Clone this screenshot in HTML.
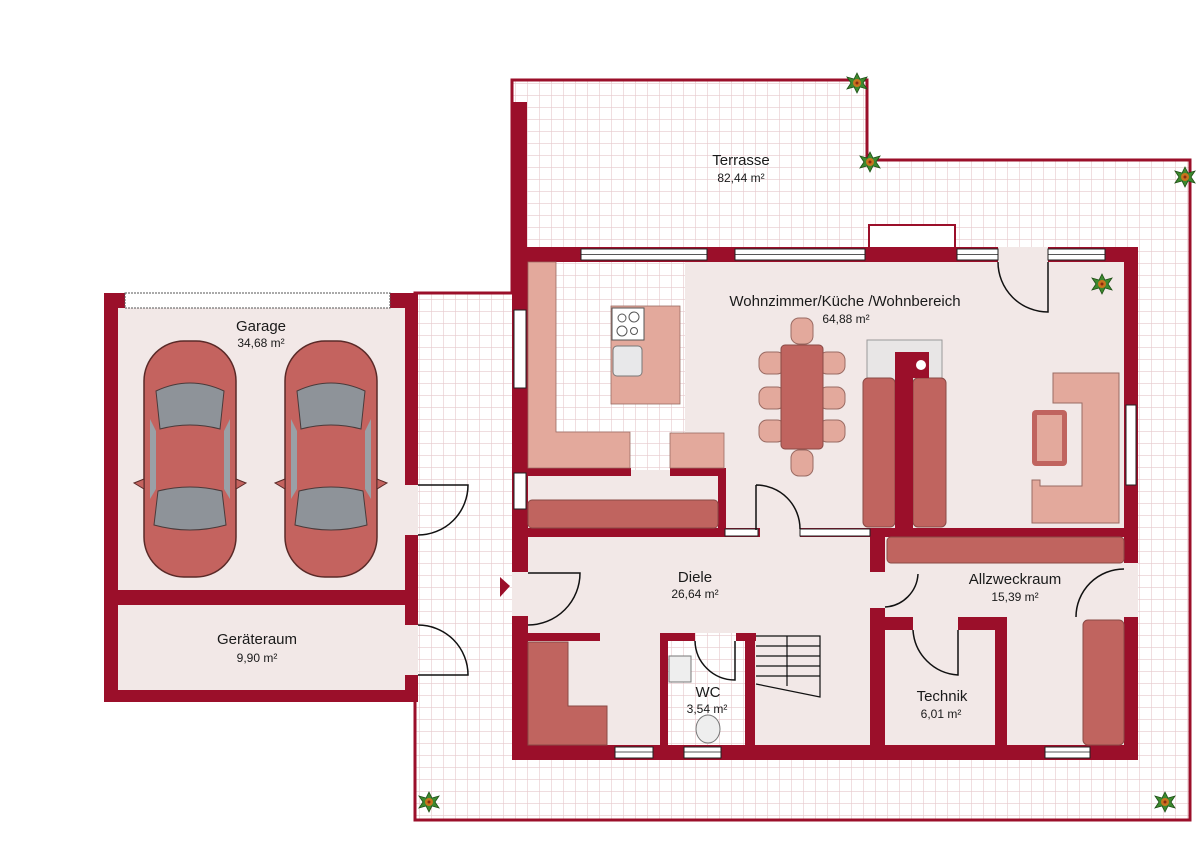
<!DOCTYPE html>
<html><head><meta charset="utf-8"><style>
html,body{margin:0;padding:0;background:#fff;width:1200px;height:848px;overflow:hidden}
svg{display:block}
text{font-family:"Liberation Sans",sans-serif;fill:#1a1a1a;text-anchor:middle}
</style></head><body>
<svg width="1200" height="848" viewBox="0 0 1200 848" xmlns="http://www.w3.org/2000/svg">
<defs>
<pattern id="g" width="12" height="12" patternUnits="userSpaceOnUse">
<rect width="12" height="12" fill="#fff"/>
<path d="M12 0V12M0 12H12" stroke="#e6c9cc" stroke-width="1.2" fill="none"/>
</pattern>
<g id="plant"><polygon points="0,-10 3,-4 10,-6 6,0 10,6 3,4 0,10 -3,4 -10,6 -6,0 -10,-6 -3,-4" fill="#3d8a2e" stroke="#1f4f17" stroke-width="0.8"/><circle r="4" fill="#c8741e"/><circle r="1.5" fill="#8b2a10"/></g>
<g id="car">
<rect x="-46" y="-118" width="92" height="236" rx="40" fill="#c4635f" stroke="#5a2a28" stroke-width="1.5"/>
<path d="M-34,-68 Q0,-84 34,-68 L30,-30 Q0,-38 -30,-30Z" fill="#8e9399" stroke="#4a3a3a"/>
<path d="M-32,32 Q0,24 32,32 L36,66 Q0,76 -36,66Z" fill="#8e9399" stroke="#4a3a3a"/>
<path d="M-40,-40 L-34,-28 L-34,30 L-40,40Z" fill="#9aa0a6"/>
<path d="M40,-40 L34,-28 L34,30 L40,40Z" fill="#9aa0a6"/>
<path d="M-46,20 L-56,24 L-46,30Z M46,20 L56,24 L46,30Z" fill="#c4635f" stroke="#5a2a28"/>
</g>
</defs>

<!-- terrace -->
<path d="M512,80 H867 V160 H1190 V820 H415 V293 H512 Z" fill="url(#g)" stroke="#9b0f2a" stroke-width="3"/>
<rect x="512" y="102" width="15" height="150" fill="#9b0f2a"/>

<!-- house interior fill -->
<rect x="512" y="248" width="626" height="512" fill="#f2e8e7"/>
<rect x="528" y="262" width="157" height="208" fill="url(#g)"/>
<rect x="660" y="633" width="85" height="112" fill="url(#g)"/>

<!-- garage -->
<rect x="104" y="293" width="314" height="409" fill="#9b0f2a"/>
<rect x="118" y="308" width="287" height="282" fill="#f2e8e7"/>
<rect x="118" y="605" width="287" height="85" fill="#f2e8e7"/>
<rect x="125" y="293" width="265" height="15" fill="#fff" stroke="#555" stroke-dasharray="2,1" stroke-width="1"/>
<rect x="405" y="485" width="13" height="50" fill="#f2e8e7"/>
<rect x="405" y="625" width="13" height="50" fill="#f2e8e7"/>
<path d="M418,535 A50,50 0 0 0 468,485 H418" fill="none" stroke="#111" stroke-width="1.5"/>
<path d="M418,625 A50,50 0 0 1 468,675 H418" fill="none" stroke="#111" stroke-width="1.5"/>
<use href="#car" x="190" y="459"/>
<use href="#car" x="331" y="459"/>
<text x="261" y="331" font-size="15">Garage</text>
<text x="261" y="347" font-size="12">34,68 m²</text>
<text x="257" y="644" font-size="15">Geräteraum</text>
<text x="257" y="662" font-size="12">9,90 m²</text>

<!-- outer walls house -->
<g fill="#9b0f2a">
<rect x="512" y="247" width="626" height="15"/>
<rect x="512" y="247" width="16" height="513"/>
<rect x="1124" y="247" width="14" height="513"/>
<rect x="512" y="745" width="626" height="15"/>
<rect x="528" y="468" width="103" height="8"/>
<rect x="670" y="468" width="55" height="8"/>
<rect x="718" y="468" width="8" height="68"/>
<rect x="512" y="528" width="248" height="9"/>
<rect x="800" y="528" width="338" height="9"/>
<rect x="870" y="528" width="15" height="44"/>
<rect x="870" y="608" width="15" height="140"/>
<rect x="885" y="617" width="28" height="13"/>
<rect x="958" y="617" width="49" height="13"/>
<rect x="995" y="617" width="12" height="130"/>
<rect x="528" y="633" width="72" height="8"/>
<rect x="660" y="633" width="35" height="8"/>
<rect x="736" y="633" width="20" height="8"/>
<rect x="660" y="633" width="8" height="115"/>
<rect x="745" y="633" width="10" height="115"/>
<rect x="895" y="352" width="18" height="176"/>
</g>
<rect x="869" y="225" width="86" height="23" fill="#fff" stroke="#9b0f2a" stroke-width="2"/>
<!-- openings -->
<rect x="1124" y="563" width="14" height="54" fill="#f2e8e7"/>
<rect x="512" y="572" width="16" height="44" fill="#f2e8e7"/>
<rect x="998" y="247" width="50" height="15" fill="#f2e8e7"/>
<!-- windows -->
<g fill="#fff" stroke="#222" stroke-width="1">
<rect x="581" y="249" width="126" height="11"/><rect x="735" y="249" width="130" height="11"/>
<rect x="957" y="249" width="41" height="11"/><rect x="1048" y="249" width="57" height="11"/>
<rect x="514" y="310" width="12" height="78"/><rect x="514" y="473" width="12" height="36"/>
<rect x="1126" y="405" width="10" height="80"/>
<rect x="725" y="529" width="33" height="7"/><rect x="800" y="529" width="70" height="7"/>
<rect x="615" y="747" width="38" height="11"/><rect x="684" y="747" width="37" height="11"/>
<rect x="1045" y="747" width="45" height="11"/>
</g>
<g stroke="#222" stroke-width="0.8"><path d="M581,254.5H707M735,254.5H865M957,254.5H998M1048,254.5H1105M615,752H653M684,752H721M1045,752H1090"/></g>
<!-- doors -->
<g fill="none" stroke="#111" stroke-width="1.5">
<path d="M998,262 A50,50 0 0 0 1048,312 V262"/>
<path d="M528,625 A52,52 0 0 0 580,573 H528"/>
<path d="M756,485 V530 M756,485 A44,44 0 0 1 800,529"/>
<path d="M885,607 A35,35 0 0 0 918,574"/>
<path d="M1076,617 A48,48 0 0 1 1124,569"/>
<path d="M913,630 A48,48 0 0 0 958,675 V630"/>
<path d="M695,641 A40,40 0 0 0 735,680 V641"/>
</g>
<polygon points="500,577 510,586 500,597" fill="#9b0f2a"/>

<!-- kitchen furniture -->
<g fill="#e3a99c" stroke="#9a6b63" stroke-width="0.8">
<path d="M528,262 H556 V432 H630 V468 H528Z"/>
<rect x="670" y="433" width="54" height="35"/>
<rect x="611" y="306" width="69" height="98"/>
</g>
<rect x="612" y="308" width="32" height="32" fill="#fff" stroke="#555"/>
<circle cx="622" cy="318" r="4" fill="none" stroke="#555"/><circle cx="634" cy="317" r="5" fill="none" stroke="#555"/>
<circle cx="622" cy="331" r="5" fill="none" stroke="#555"/><circle cx="634" cy="331" r="3.5" fill="none" stroke="#555"/>
<rect x="613" y="346" width="29" height="30" rx="4" fill="#e8e8ea" stroke="#777"/>
<!-- dining -->
<g fill="#e3a99c" stroke="#9a6b63">
<rect x="791" y="318" width="22" height="26" rx="8"/><rect x="791" y="450" width="22" height="26" rx="8"/>
<rect x="759" y="352" width="26" height="22" rx="8"/><rect x="759" y="387" width="26" height="22" rx="8"/><rect x="759" y="420" width="26" height="22" rx="8"/>
<rect x="819" y="352" width="26" height="22" rx="8"/><rect x="819" y="387" width="26" height="22" rx="8"/><rect x="819" y="420" width="26" height="22" rx="8"/>
</g>
<rect x="781" y="345" width="42" height="104" rx="4" fill="#c0645f" stroke="#8a4a46"/>
<!-- fireplace & sofas -->
<rect x="867" y="340" width="75" height="40" fill="#e8e6e6" stroke="#999"/>
<rect x="863" y="378" width="32" height="149" rx="5" fill="#c0645f" stroke="#8a4a46"/>
<rect x="913" y="378" width="33" height="149" rx="5" fill="#c0645f" stroke="#8a4a46"/>
<rect x="895" y="352" width="18" height="176" fill="#9b0f2a"/>
<rect x="913" y="352" width="16" height="26" fill="#9b0f2a"/>
<circle cx="921" cy="365" r="5" fill="#fff"/>
<!-- corner sofa -->
<path d="M1053,373 H1119 V523 H1032 V480 H1040 V486 H1082 V403 H1053Z" fill="#e3a99c" stroke="#9a6b63"/>
<rect x="1032" y="410" width="35" height="56" rx="4" fill="#c0645f"/>
<rect x="1037" y="415" width="25" height="46" fill="#e3a99c"/>
<!-- dark furniture -->
<g fill="#c0645f" stroke="#8a4a46">
<rect x="528" y="500" width="190" height="28" rx="4"/>
<rect x="887" y="537" width="237" height="26" rx="4"/>
<path d="M528,642 H568 V706 H607 V745 H528Z"/>
<rect x="1083" y="620" width="41" height="125" rx="5"/>
</g>
<!-- WC -->
<rect x="669" y="656" width="22" height="26" fill="#eee" stroke="#777"/>
<ellipse cx="708" cy="729" rx="12" ry="14" fill="#eee" stroke="#777"/>
<!-- stairs -->
<g fill="none" stroke="#111" stroke-width="1.2">
<path d="M756,636H820V697L756,684M756,646H820M756,656H820M756,666H820M756,676H820M787,636V686"/>
</g>
<!-- plants -->
<use href="#plant" x="857" y="83"/><use href="#plant" x="870" y="162"/><use href="#plant" x="1185" y="177"/>
<use href="#plant" x="1102" y="284"/><use href="#plant" x="429" y="802"/><use href="#plant" x="1165" y="802"/>
<!-- labels -->
<text x="741" y="165" font-size="15">Terrasse</text>
<text x="741" y="182" font-size="12">82,44 m²</text>
<text x="845" y="306" font-size="15">Wohnzimmer/Küche /Wohnbereich</text>
<text x="846" y="323" font-size="12">64,88 m²</text>
<text x="695" y="582" font-size="15">Diele</text>
<text x="695" y="598" font-size="12">26,64 m²</text>
<text x="708" y="697" font-size="15">WC</text>
<text x="707" y="713" font-size="12">3,54 m²</text>
<text x="1015" y="584" font-size="15">Allzweckraum</text>
<text x="1015" y="601" font-size="12">15,39 m²</text>
<text x="942" y="701" font-size="15">Technik</text>
<text x="941" y="718" font-size="12">6,01 m²</text>
</svg>
</body></html>
